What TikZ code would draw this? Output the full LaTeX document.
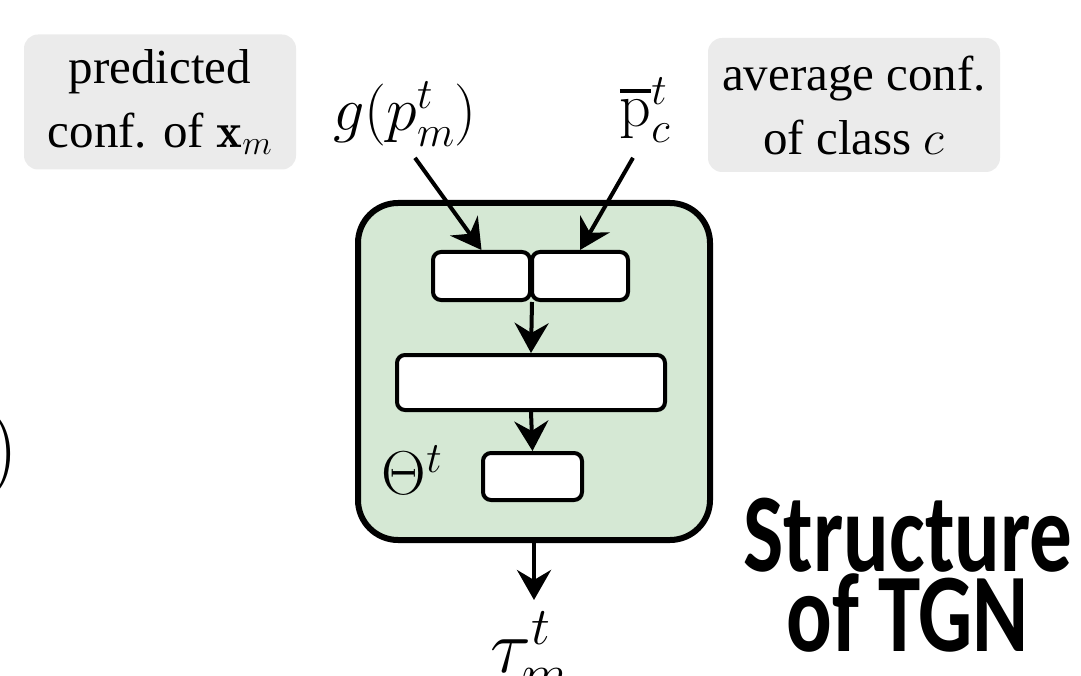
\RequirePackage{fix-cm}
\documentclass[tikz,border=0pt]{standalone}
\usepackage{amsmath}
\usepackage{graphicx}
\usepackage{fontspec}
\usetikzlibrary{arrows.meta}
\newfontfamily\notefont{Liberation Serif}
\newfontfamily\titlefont{Carlito}
\definecolor{tgngreen}{HTML}{D5E8D4}
\definecolor{notegray}{HTML}{EBEBEB}
\newcommand{\narrow}[1]{\scalebox{0.76}[1]{#1}}
\newcommand{\barp}{\mathord{\vbox{\hrule height 3.5pt\kern 7pt\hbox{$\mathrm{p}$}}}}
\tikzset{
  notebox/.style={fill=notegray, rounded corners=14pt, align=center,
    font=\notefont\fontsize{49}{64}\selectfont},
  tgnbox/.style={draw, line width=6pt, fill=tgngreen, rounded corners=40pt},
  layer/.style={draw, line width=4pt, fill=white, rounded corners=8pt},
  flow/.style={-{Stealth[length=30pt,width=34pt,inset=10pt]}, line width=4pt},
  sym/.style={font=\fontsize{62}{64}\selectfont}
}
\begin{document}
\begin{tikzpicture}[x=1pt,y=-1pt]
    \clip (0,0) rectangle (1081,676);

    % Erklärungen
    \node[notebox, minimum width=272pt, minimum height=135pt] (pred) at (160,102)
        {predicted\\conf. of $\mathbf{x}_m$};
    \node[notebox, minimum width=292pt, minimum height=134pt] (avg) at (854,105)
        {average conf.\\of class $c$};

    % Eingaben
    \node[sym] (g) at (405,114) {$g(p_m^t)$};
    \node[sym] (pbar) at (645,110) {$\barp_c^t$};

    % TGN
    \node[tgnbox, minimum width=352pt, minimum height=337pt] (tgn) at (534,371.5) {};
    \node[layer, minimum width=97pt, minimum height=48pt] (in1) at (481.5,276) {};
    \node[layer, minimum width=96pt, minimum height=48pt] (in2) at (580,276) {};
    \node[layer, minimum width=268pt, minimum height=55pt] (mid) at (531,382.5) {};
    \node[layer, minimum width=99pt, minimum height=47pt] (out) at (532.5,476.5) {};
    \node[sym] (theta) at (412,470) {$\Theta^t$};

    % Ausgabe
    \node[sym, font=\fontsize{76}{78}\selectfont, anchor=north west, inner sep=0pt]
        (tau) at (490,612) {$\tau_m^t$};

    \draw[flow] ([xshift=10pt,yshift=-8pt]g.south) -- (in1.north);
    \draw[flow] ([xshift=-12pt,yshift=-12pt]pbar.south) -- (in2.north);
    \draw[flow] (in1.south east) -- (mid.north);
    \draw[flow] (mid.south) -- (out.north);
    \draw[flow, shorten >=12pt] (tgn.south) -- (tgn.south |- tau.north);

    \node[font=\titlefont\bfseries\fontsize{112}{80}\selectfont, align=center]
        (title) at (908,575) {\narrow{Structure}\\\narrow{of TGN}};

    % Rest der Formel links
    \node[anchor=east, inner sep=0pt, font=\fontsize{84}{84}\selectfont] (paren) at (18,455) {$)$};
\end{tikzpicture}
\end{document}
